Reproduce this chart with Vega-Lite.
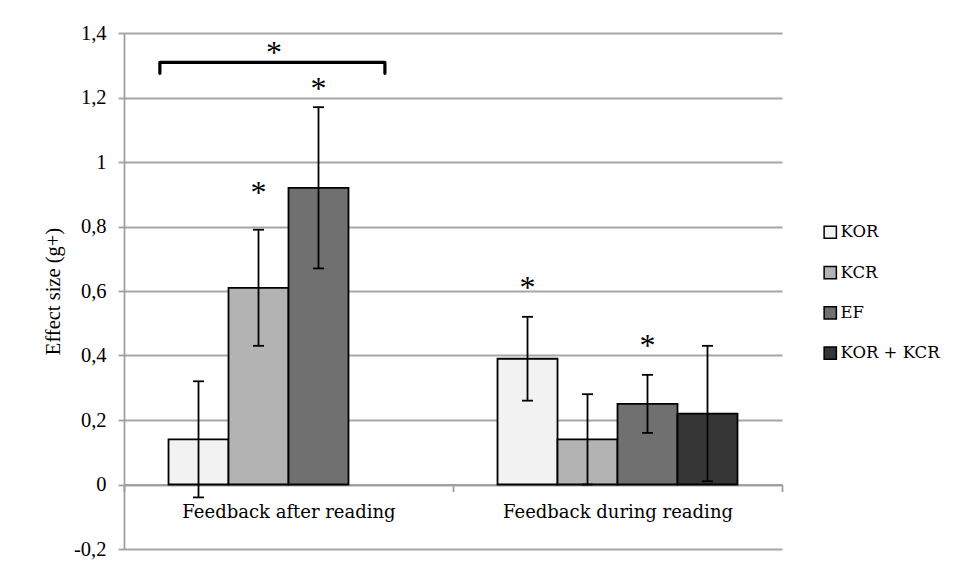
{
  "$schema": "https://vega.github.io/schema/vega-lite/v6.json",
  "width": 658,
  "height": 516,
  "autosize": {"type": "none"},
  "padding": {"left": 124, "top": 33, "right": 179, "bottom": 25},
  "background": "white",
  "config": {"view": {"stroke": null}},
  "datasets": {
    "bars": [
      {"group": "Feedback after reading", "type": "KOR", "g": 0.14, "lo": -0.04, "hi": 0.32},
      {"group": "Feedback after reading", "type": "KCR", "g": 0.61, "lo": 0.43, "hi": 0.79},
      {"group": "Feedback after reading", "type": "EF", "g": 0.92, "lo": 0.67, "hi": 1.17},
      {"group": "Feedback during reading", "type": "KOR", "g": 0.39, "lo": 0.26, "hi": 0.52},
      {"group": "Feedback during reading", "type": "KCR", "g": 0.14, "lo": 0.0, "hi": 0.28},
      {"group": "Feedback during reading", "type": "EF", "g": 0.25, "lo": 0.16, "hi": 0.34},
      {"group": "Feedback during reading", "type": "KOR + KCR", "g": 0.22, "lo": 0.01, "hi": 0.43}
    ],
    "stars": [
      {"group": "Feedback after reading", "type": "KCR", "sy": 0.918},
      {"group": "Feedback after reading", "type": "EF", "sy": 1.243},
      {"group": "Feedback during reading", "type": "KOR", "sy": 0.624},
      {"group": "Feedback during reading", "type": "EF", "sy": 0.445}
    ],
    "bracket": [
      {"bx": 0.109, "by": 1.275, "o": 0},
      {"bx": 0.109, "by": 1.309, "o": 1},
      {"bx": 0.793, "by": 1.309, "o": 2},
      {"bx": 0.793, "by": 1.275, "o": 3}
    ],
    "bracketStar": [
      {"bx": 0.456, "sy": 1.355}
    ]
  },
  "layer": [
    {
      "encoding": {
        "x": {
          "field": "group", "type": "nominal",
          "scale": {"paddingInner": 0, "paddingOuter": 0},
          "axis": {
            "title": null, "orient": "bottom", "offset": -64.5,
            "labelAngle": 0, "labelFont": "DejaVu Serif", "labelFontSize": 18, "labelColor": "black",
            "labelPadding": 12, "labelLimit": 400, "domainColor": "#a0a0a0", "domainWidth": 1.8,
            "tickColor": "#a0a0a0", "tickWidth": 1.8, "tickSize": 7, "tickBand": "extent", "grid": false
          }
        },
        "xOffset": {
          "field": "type", "type": "nominal",
          "scale": {"domain": ["KOR", "KCR", "EF", "KOR + KCR"], "paddingInner": 0, "paddingOuter": 0.742}
        }
      },
      "layer": [
        {
          "data": {"name": "bars"},
          "mark": {"type": "bar", "stroke": "black", "strokeWidth": 1.8},
          "encoding": {
            "y": {
              "field": "g", "type": "quantitative",
              "scale": {"domain": [-0.2, 1.4], "nice": false, "zero": false},
              "axis": {
                "title": "Effect size (g+)", "titleFont": "Liberation Serif", "titleFontSize": 20.5,
                "titleFontWeight": "normal", "titleColor": "black", "titlePadding": 10,
                "values": [-0.2, 0, 0.2, 0.4, 0.6, 0.8, 1, 1.2, 1.4],
                "labelExpr": "replace(replace(format(datum.value, '.1~f'), '.', ','), '\u2212', '-')",
                "labelFont": "Liberation Serif", "labelFontSize": 20.5, "labelColor": "black", "labelPadding": 12,
                "domainColor": "#a0a0a0", "domainWidth": 1.8, "tickColor": "#a0a0a0", "tickWidth": 1.8, "tickSize": 6,
                "grid": true, "gridColor": "#a6a6a6", "gridWidth": 1.8
              }
            },
            "fill": {
              "field": "type", "type": "nominal",
              "scale": {"domain": ["KOR", "KCR", "EF", "KOR + KCR"], "range": ["#f2f2f2", "#b3b3b3", "#707070", "#363636"]},
              "legend": {
                "title": null, "orient": "none", "legendX": 698, "legendY": 191, "direction": "vertical",
                "symbolType": "square", "symbolSize": 150, "symbolStrokeColor": "black", "symbolStrokeWidth": 1.5,
                "labelFont": "DejaVu Serif", "labelFontSize": 16.5, "labelColor": "black", "labelOffset": 2,
                "rowPadding": 21.3
              }
            }
          }
        },
        {
          "data": {"name": "bars"},
          "mark": {"type": "rule", "color": "black", "strokeWidth": 1.8},
          "encoding": {
            "y": {"field": "lo", "type": "quantitative", "axis": null},
            "y2": {"field": "hi"}
          }
        },
        {
          "data": {"name": "bars"},
          "mark": {"type": "tick", "color": "black", "size": 11, "thickness": 1.8, "opacity": 1},
          "encoding": {
            "y": {"field": "lo", "type": "quantitative", "axis": null}
          }
        },
        {
          "data": {"name": "bars"},
          "mark": {"type": "tick", "color": "black", "size": 11, "thickness": 1.8, "opacity": 1},
          "encoding": {
            "y": {"field": "hi", "type": "quantitative", "axis": null}
          }
        },
        {
          "data": {"name": "stars"},
          "mark": {"type": "text", "text": "*", "font": "Liberation Serif", "fontSize": 32, "color": "black", "align": "center", "baseline": "middle", "dy": 5},
          "encoding": {
            "y": {"field": "sy", "type": "quantitative", "axis": null}
          }
        }
      ],
      "resolve": {"axis": {"y": "independent"}}
    },
    {
      "layer": [
        {
          "data": {"name": "bracket"},
          "mark": {"type": "line", "color": "black", "strokeWidth": 3.2, "strokeJoin": "round", "strokeCap": "round"},
          "encoding": {
            "x": {"field": "bx", "type": "quantitative", "scale": {"domain": [0, 2], "nice": false, "zero": false}, "axis": null},
            "y": {"field": "by", "type": "quantitative", "axis": null},
            "order": {"field": "o", "type": "quantitative"}
          }
        },
        {
          "data": {"name": "bracketStar"},
          "mark": {"type": "text", "text": "*", "font": "Liberation Serif", "fontSize": 32, "color": "black", "align": "center", "baseline": "middle", "dy": 5},
          "encoding": {
            "x": {"field": "bx", "type": "quantitative", "scale": {"domain": [0, 2], "nice": false, "zero": false}, "axis": null},
            "y": {"field": "sy", "type": "quantitative", "axis": null}
          }
        }
      ],
      "resolve": {"axis": {"y": "independent"}}
    }
  ],
  "resolve": {"scale": {"x": "independent"}, "axis": {"x": "independent", "y": "independent"}}
}
